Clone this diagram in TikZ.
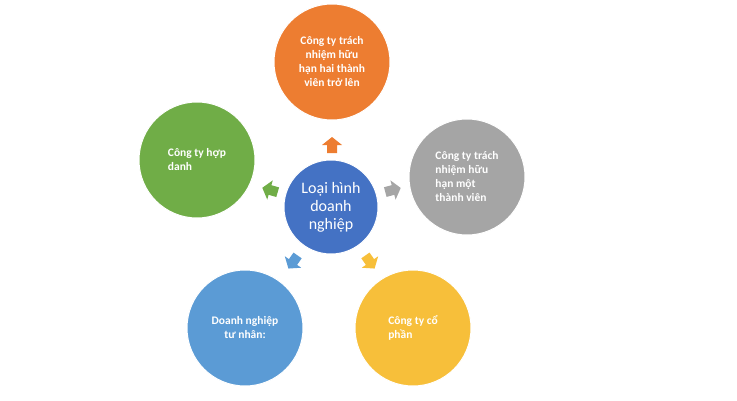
\documentclass[tikz,border=0pt]{standalone}
\usepackage{fontspec}
\setmainfont{Carlito}
\usetikzlibrary{positioning}
\definecolor{cOrange}{HTML}{ED7D31}
\definecolor{cGray}{HTML}{A5A5A5}
\definecolor{cYellow}{HTML}{F7BF3A}
\definecolor{cBlue}{HTML}{5B9BD5}
\definecolor{cGreen}{HTML}{70AD47}
\definecolor{cCenter}{HTML}{4472C4}
\tikzset{
  outer/.style={circle,fill=#1,draw=white,line width=1pt,minimum size=116pt,inner sep=0pt,
    text=white,font=\bfseries\fontsize{11.5}{14}\selectfont},
  hub/.style={circle,fill=cCenter,draw=white,line width=1pt,minimum size=94pt,inner sep=0pt,
    text=white,font=\fontsize{16}{18}\selectfont,align=center},
  pics/housearrow/.style={code={
    \fill[#1] (-8,-5)--(0,-5)--(0,-10)--(8,0)--(0,10)--(0,5)--(-8,5)--cycle;}}
}
\begin{document}
\begin{tikzpicture}[x=1pt,y=1pt]
			\useasboundingbox (0,0) rectangle (737,400);

			%circles
			\node [hub] (hub) at (331,193) {Loại hình\\doanh\\nghiệp};
			\node [outer=cOrange,align=center] (tnhh2) at (332,338) {Công ty trách\\nhiệm hữu\\hạn hai thành\\viên trở lên};
			\node [outer=cGray,align=left] (tnhh1) at (467,223) {Công ty trách\\nhiệm hữu\\hạn một\\thành viên};
			\node [outer=cYellow,align=left] (cp) at (413,72) {Công ty cổ\\phần};
			\node [outer=cBlue,align=center] (dntn) at (245,72) {Doanh nghiệp\\tư nhân:};
			\node [outer=cGreen,align=left] (hd) at (197,240) {Công ty hợp\\danh};

			%arrows
			\pic [rotate=90] at (332,255) {housearrow=cOrange};
			\pic [rotate=164] at (270,210) {housearrow=cGreen};
			\pic [rotate=15] at (393,210) {housearrow=cGray};
			\pic [rotate=235] at (293,138) {housearrow=cBlue};
			\pic [rotate=305] at (370,138) {housearrow=cYellow};
		\end{tikzpicture}
\end{document}
